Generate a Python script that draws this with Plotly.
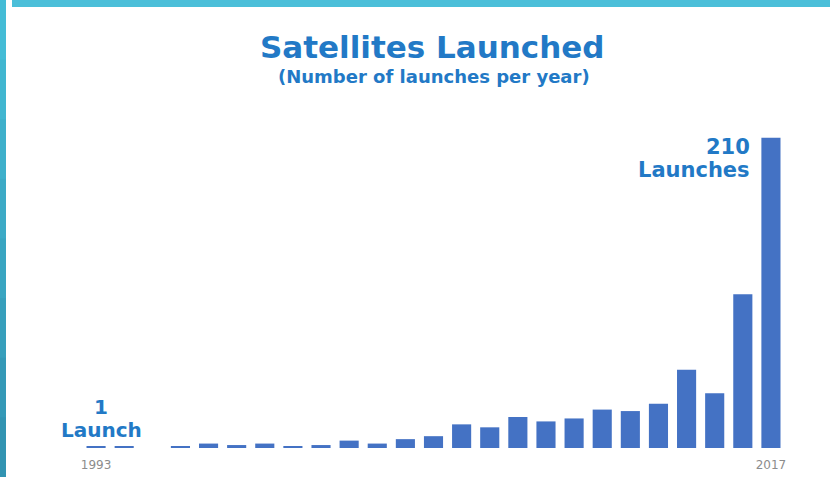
import plotly.graph_objects as go

years = [str(y) for y in range(1993, 2018)]
launches = [1, 1, 0, 1, 3, 2, 3, 1, 2, 5, 3, 6, 8, 16, 14, 21, 18, 20, 26, 25, 30, 53, 37, 104, 210]
tick_years = ["1993", "2017"]
title_text = "Satellites Launched"
subtitle_text = "(Number of launches per year)"

BAR = "#4472c4"
TXT = "#2279c6"
FONT = "DejaVu Sans, Liberation Sans, Arial, sans-serif"

fig = go.Figure(go.Bar(x=years, y=launches, marker_color=BAR, marker_line_width=0))

L, R, T, B = 82, 45, 123, 29
W, H = 830, 477
pw, ph = W - L - R, H - T - B


def px_x(x):
    return (x - L) / pw


def px_y(y):
    return (H - B - y) / ph


shapes = []
# left vertical accent bar (slight gradient, overlapping segments)
n = 8
for i in range(n):
    t = i / (n - 1)
    r = int(0x44 + (0x32 - 0x44) * t)
    g = int(0xbc + (0x94 - 0xbc) * t)
    b = int(0xd6 + (0xb2 - 0xd6) * t)
    shapes.append(dict(type="rect", xref="paper", yref="paper",
                       x0=px_x(0), x1=px_x(6),
                       y0=px_y(H * (i + 1) / n + 2), y1=px_y(H * i / n),
                       fillcolor=f"rgb({r},{g},{b})", line_width=0, layer="above"))
# top band
shapes.append(dict(type="rect", xref="paper", yref="paper", x0=px_x(12), x1=px_x(W),
                   y0=px_y(7), y1=px_y(0), fillcolor="#4bbfd9", line_width=0, layer="above"))

fig.update_layout(
    width=W, height=H,
    margin=dict(l=L, r=R, t=T, b=B, autoexpand=False),
    paper_bgcolor="white", plot_bgcolor="white",
    bargap=0.32, showlegend=False,
    xaxis=dict(type="category", range=[-0.5, 24.5], tickmode="array",
               tickvals=tick_years, ticktext=tick_years, showgrid=False,
               showline=False, zeroline=False, ticks="outside", ticklen=6,
               tickcolor="rgba(0,0,0,0)", automargin=False,
               tickfont=dict(family=FONT, size=12, color="#8c8c8c")),
    yaxis=dict(range=[0, 220], visible=False, showgrid=False, zeroline=False),
    annotations=[
        dict(text=f"<b>{title_text}</b>", xref="paper", yref="paper",
             x=px_x(432), y=px_y(47), xanchor="center", yanchor="middle",
             showarrow=False, font=dict(family=FONT, size=31, color=TXT)),
        dict(text=f"<b>{subtitle_text}</b>", xref="paper", yref="paper",
             x=px_x(434), y=px_y(77), xanchor="center", yanchor="middle",
             showarrow=False, font=dict(family=FONT, size=18, color=TXT)),
        dict(text=f"<b>{launches[0]}</b>", xref="paper", yref="paper",
             x=px_x(101), y=px_y(407), xanchor="center", yanchor="middle",
             showarrow=False, font=dict(family=FONT, size=20, color=TXT)),
        dict(text="<b>Launch</b>", xref="paper", yref="paper",
             x=px_x(101), y=px_y(430), xanchor="center", yanchor="middle",
             showarrow=False, font=dict(family=FONT, size=20, color=TXT)),
        dict(text=f"<b>{launches[-1]}</b>", xref="paper", yref="paper",
             x=px_x(752), y=px_y(147), xanchor="right", yanchor="middle",
             showarrow=False, font=dict(family=FONT, size=21, color=TXT)),
        dict(text="<b>Launches</b>", xref="paper", yref="paper",
             x=px_x(752), y=px_y(170), xanchor="right", yanchor="middle",
             showarrow=False, font=dict(family=FONT, size=21, color=TXT)),
    ],
    shapes=shapes,
)

fig.write_html("out.html", config={"displayModeBar": False},
               post_script="document.body.style.margin='0';")
